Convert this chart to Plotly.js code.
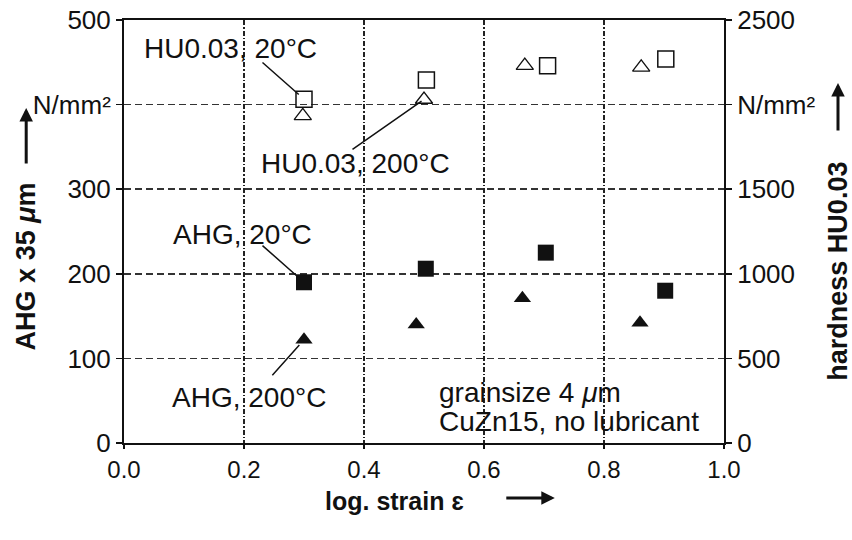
<!DOCTYPE html>
<html>
<head>
<meta charset="utf-8">
<script src="https://cdn.plot.ly/plotly-3.0.1.min.js"></script>
<style>html,body{margin:0;padding:0;background:#fff;}</style>
</head>
<body>
<div id="chart" style="width:852px;height:540px;"></div>
<script>
// Data
const ahg20_x  = [0.30, 0.503, 0.703, 0.902];
const ahg20_y  = [190, 206, 225, 180];
const ahg200_x = [0.30, 0.487, 0.664, 0.860];
const ahg200_y = [122, 140, 171, 142];
const hu20_x   = [0.30, 0.504, 0.706, 0.903];
const hu20_y   = [2032, 2145, 2230, 2270];
const hu200_x  = [0.298, 0.50, 0.668, 0.862];
const hu200_y  = [1933, 2030, 2230, 2220];

const xTicks = [0, 0.2, 0.4, 0.6, 0.8, 1.0];
const xTickText = ['0.0', '0.2', '0.4', '0.6', '0.8', '1.0'];
const yTicks = [0, 100, 200, 300, 400, 500];
const yTickText = ['0', '100', '200', '300', 'N/mm²', '500'];
const y2Ticks = [0, 500, 1000, 1500, 2000, 2500];
const y2TickText = ['0', '500', '1000', '1500', 'N/mm²', '2500'];

const FONT = 'Liberation Sans, Arial, Helvetica, sans-serif';
const INK = '#111';

const traces = [
  {x: ahg20_x, y: ahg20_y, type: 'scatter', mode: 'markers', name: 'AHG, 20°C',
   marker: {symbol: 'square', size: 16, color: INK}},
  {x: ahg200_x, y: ahg200_y, type: 'scatter', mode: 'markers', name: 'AHG, 200°C',
   marker: {symbol: 'triangle-up', size: 15, color: INK}},
  {x: hu20_x, y: hu20_y, type: 'scatter', mode: 'markers', name: 'HU0.03, 20°C', yaxis: 'y2',
   marker: {symbol: 'square-open', size: 16, color: INK, line: {width: 1.5, color: INK}}},
  {x: hu200_x, y: hu200_y, type: 'scatter', mode: 'markers', name: 'HU0.03, 200°C', yaxis: 'y2',
   marker: {symbol: 'triangle-up-open', size: 15, color: INK, line: {width: 1.3, color: INK}}}
];

function lbl(text, x, y, xanchor, yref) {
  return {text: text, x: x, y: y, xref: 'x', yref: yref || 'y', showarrow: false,
          xanchor: xanchor || 'center', yanchor: 'middle',
          font: {family: FONT, size: 28, color: INK}};
}
function leader(x, y, yref, ax, ay, standoff) {
  return {text: '', x: x, y: y, xref: 'x', yref: yref, showarrow: true, arrowhead: 0,
          arrowwidth: 1.5, arrowcolor: INK, ax: ax, ay: ay, standoff: standoff};
}
function titleArrow(x, y, ax, ay) {
  return {text: '', x: x, y: y, xref: 'paper', yref: 'paper', showarrow: true,
          arrowhead: 2, arrowsize: 0.9, arrowwidth: 3, arrowcolor: INK, ax: ax, ay: ay, standoff: 0};
}

const annotations = [
  lbl('HU0.03, 20°C', 0.178, 466),
  lbl('HU0.03, 200°C', 0.385, 330),
  lbl('AHG, 20°C', 0.198, 246),
  lbl('AHG, 200°C', 0.209, 54),
  lbl('grainsize 4 <i>μ</i>m', 0.522, 60, 'left'),
  lbl('CuZn15, no lubricant', 0.522, 25, 'left'),
  leader(hu20_x[0], hu20_y[0], 'y2', -43, -38, 7),
  leader(hu200_x[1], hu200_y[1], 'y2', -73, 51, 3),
  leader(ahg20_x[0], ahg20_y[0], 'y', -43, -38, 8),
  leader(ahg200_x[0], ahg200_y[0], 'y', -33, 37, 7),
  {text: '<b>AHG x 35 <i>μ</i>m</b>', xref: 'paper', yref: 'paper', x: -0.163, y: 0.418,
   textangle: -90, showarrow: false, xanchor: 'center', yanchor: 'middle',
   font: {family: FONT, size: 27, color: INK}},
  titleArrow(-0.163, 0.792, 0, 57),
  {text: '<b>hardness HU0.03</b>', xref: 'paper', yref: 'paper', x: 1.19, y: 0.405,
   textangle: -90, showarrow: false, xanchor: 'center', yanchor: 'middle',
   font: {family: FONT, size: 27, color: INK}},
  titleArrow(1.19, 0.851, 0, 49),
  {text: '<b>log. strain ɛ</b>', xref: 'paper', yref: 'paper', x: 0.45, y: -0.138,
   showarrow: false, xanchor: 'center', yanchor: 'middle',
   font: {family: FONT, size: 25, color: INK}},
  titleArrow(0.718, -0.13, -50, 0)
];

const layout = {
  width: 852, height: 540,
  margin: {l: 124, r: 128, t: 20, b: 97},
  paper_bgcolor: '#fff', plot_bgcolor: '#fff',
  showlegend: false,
  font: {family: FONT, color: INK},
  xaxis: {
    range: [0, 1], tickvals: xTicks, ticktext: xTickText,
    showline: true, linecolor: INK, linewidth: 2, mirror: true,
    ticks: 'outside', ticklen: 4, tickcolor: INK, tickwidth: 1.5,
    showgrid: true, gridcolor: '#222', gridwidth: 1.4, griddash: '5px,2px,1.5px,2px',
    zeroline: false, tickfont: {family: FONT, size: 24, color: INK}
  },
  yaxis: {
    range: [0, 500], tickvals: yTicks, ticktext: yTickText,
    showline: true, linecolor: INK, linewidth: 2,
    ticks: 'outside', ticklen: 6, tickcolor: INK, tickwidth: 1.5,
    showgrid: true, gridcolor: '#333', gridwidth: 1.5, griddash: '7px,4px',
    zeroline: false, tickfont: {family: FONT, size: 26, color: INK}
  },
  yaxis2: {
    range: [0, 2500], tickvals: y2Ticks, ticktext: y2TickText,
    overlaying: 'y', side: 'right', anchor: 'x',
    showline: true, linecolor: INK, linewidth: 2,
    ticks: 'outside', ticklen: 6, tickcolor: INK, tickwidth: 1.5,
    showgrid: false, zeroline: false, tickfont: {family: FONT, size: 26, color: INK}
  },
  annotations: annotations
};

Plotly.newPlot('chart', traces, layout, {staticPlot: true, displayModeBar: false});
</script>
</body>
</html>
